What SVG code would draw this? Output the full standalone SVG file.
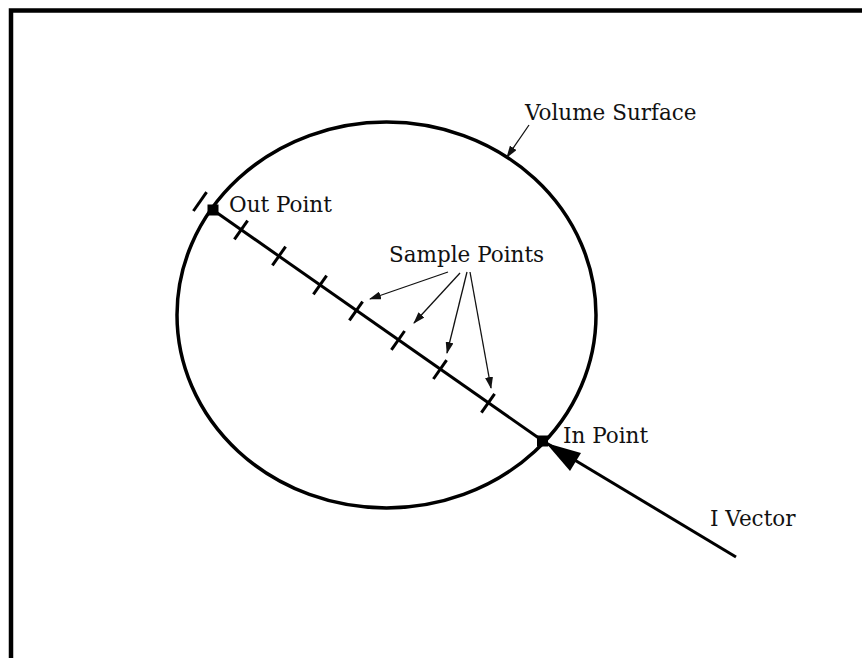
<svg xmlns="http://www.w3.org/2000/svg" width="862" height="658" viewBox="0 0 862 658">
<defs>
<style>
.lbl{font-family:"DejaVu Serif",serif;font-size:21.5px;fill:#111}
.thick{stroke:#000;stroke-width:3;fill:none;stroke-linecap:butt}
.tick{stroke:#000;stroke-width:3;fill:none}
.thin{stroke:#111;stroke-width:1.3;fill:none}
</style>
<marker id="ah" markerUnits="userSpaceOnUse" markerWidth="12" markerHeight="8" refX="11" refY="4" orient="auto">
<path d="M0,0 L12,4 L0,8 Z" fill="#111"/>
</marker>
</defs>
<rect width="862" height="658" fill="#fff"/>
<path d="M11,658 V10.5 H862" stroke="#000" stroke-width="4.5" fill="none"/>
<g id="volume">
<ellipse cx="386.5" cy="315" rx="209.5" ry="193" fill="none" stroke="#000" stroke-width="3.5"/>
</g>
<g id="connectors">
<line class="thick" x1="213" y1="210" x2="543" y2="441"/>
<line class="thick" x1="543" y1="441" x2="736" y2="557"/>
<polygon points="546,443 581,453 570,471" fill="#000"/>
<line class="thin" x1="529" y1="125" x2="507" y2="157" marker-end="url(#ah)"/>
<line class="thin" x1="448" y1="272" x2="370" y2="299" marker-end="url(#ah)"/>
<line class="thin" x1="460" y1="273" x2="414" y2="323" marker-end="url(#ah)"/>
<line class="thin" x1="467" y1="272" x2="447" y2="353" marker-end="url(#ah)"/>
<line class="thin" x1="470" y1="272" x2="491" y2="388" marker-end="url(#ah)"/>
</g>
<g id="ticks">
<line class="tick" x1="193.4" y1="211" x2="206.6" y2="192.2"/>
<line class="tick" x1="234.4" y1="239.4" x2="247.6" y2="220.6"/>
<line class="tick" x1="272.4" y1="265.4" x2="285.6" y2="246.6"/>
<line class="tick" x1="313.4" y1="294.4" x2="326.6" y2="275.6"/>
<line class="tick" x1="349.4" y1="320.4" x2="362.6" y2="301.6"/>
<line class="tick" x1="391.4" y1="349.8" x2="404.6" y2="331"/>
<line class="tick" x1="433.4" y1="379" x2="446.6" y2="360.2"/>
<line class="tick" x1="481.4" y1="412.6" x2="494.6" y2="393.8"/>
</g>
<g id="out-point">
<rect x="207.5" y="204.5" width="11" height="11" fill="#000"/>
<text class="lbl" x="229" y="212">Out Point</text>
</g>
<g id="in-point">
<rect x="537" y="435.5" width="11" height="11" fill="#000"/>
<text class="lbl" x="563" y="443">In Point</text>
</g>
<g id="volume-surface-label">
<text class="lbl" x="525" y="120">Volume Surface</text>
</g>
<g id="sample-points-label">
<text class="lbl" x="389" y="262">Sample Points</text>
</g>
<g id="i-vector-label">
<text class="lbl" x="710" y="526">I Vector</text>
</g>
</svg>
